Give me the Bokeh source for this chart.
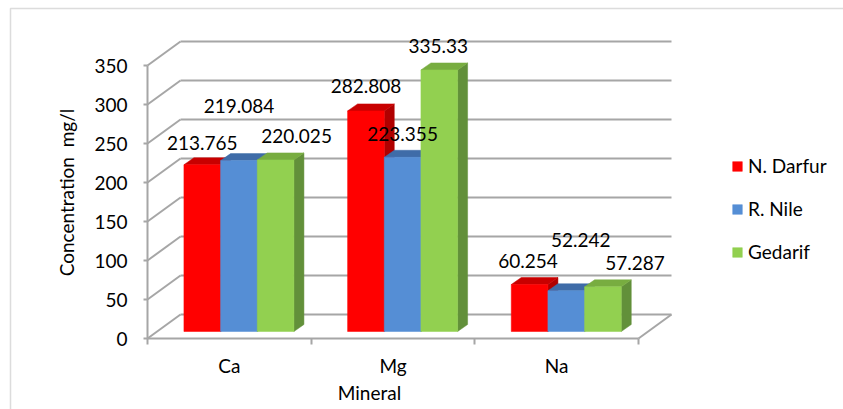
import math

from bokeh.core.properties import value
from bokeh.embed import file_html
from bokeh.models import (BoxAnnotation, ColumnDataSource, FixedTicker, Label,
                          Legend, LegendItem, Range1d)
from bokeh.plotting import figure
from bokeh.resources import INLINE

# ---- data ------------------------------------------------------------------
minerals = ["Ca", "Mg", "Na"]
sites = ["N. Darfur", "R. Nile", "Gedarif"]
n_darfur = [213.765, 282.808, 60.254]
r_nile = [219.084, 223.355, 52.242]
gedarif = [220.025, 335.33, 57.287]
series_values = [n_darfur, r_nile, gedarif]
y_ticks = [0, 50, 100, 150, 200, 250, 300, 350]

# ---- styling / layout ------------------------------------------------------
W, H = 843, 409
ORIGIN_X, ORIGIN_Y = 147, 338              # canvas px of the front axes corner
PX_SLOT = 491 / 3                          # px per category slot
PX_UNIT = 273 / 350                        # px per mg/l
FONT = "Lato"
FS = "19px"
GRID = "#a6a6a6"

face_front = ["#ff0000", "#558ed5", "#92d050"]
face_top = ["#c80000", "#3f6ca8", "#78ad40"]
face_side = ["#b00000", "#3a64a0", "#62903a"]

WALL_DX, WALL_DY = 33, 24                  # depth of the floor / walls (px)
BAR_DX, BAR_DY = 9.6, 7                    # front plane of the bars (px)
DEPTH_DX, DEPTH_DY = 10, 7                 # depth of one bar (px)
BAR_W = 110 / 3                            # width of one bar (px)

# label placement: horizontal shift and lift above the bar top (px)
label_dx = [[0, 0, -1.5], [0, 0, 14.5], [21, -1, 32]]
label_lift = [[22, 25, 24], [55, 23, 51], [24, 24, 24]]


def dx(px):
    return px / PX_SLOT


def dy(px):
    return px / PX_UNIT


def cx(px):
    """canvas x (px from left) -> data x"""
    return dx(px - ORIGIN_X)


def cy(px):
    """canvas y (px from top) -> data y"""
    return dy(ORIGIN_Y - px)


p = figure(width=W, height=H, output_backend="svg", toolbar_location=None,
           x_range=Range1d(cx(0), cx(W)), y_range=Range1d(cy(H), cy(0)),
           min_border=0, background_fill_color="white",
           border_fill_color="white")
p.outline_line_color = None
p.xgrid.visible = False
p.ygrid.visible = False

# ---- walls and floor -------------------------------------------------------
n_cat = len(minerals)
wx, wy = dx(WALL_DX), dy(WALL_DY)
p.segment(x0=[wx] * len(y_ticks), y0=[t + wy for t in y_ticks],
          x1=[n_cat + wx] * len(y_ticks), y1=[t + wy for t in y_ticks],
          line_color=GRID, line_width=2)
p.segment(x0=[0] * len(y_ticks), y0=y_ticks,
          x1=[wx] * len(y_ticks), y1=[t + wy for t in y_ticks],
          line_color=GRID, line_width=2)
p.segment(x0=[n_cat], y0=[0], x1=[n_cat + wx], y1=[wy],
          line_color=GRID, line_width=2)

# ---- 3-D bars: side, top and front faces drawn left to right ---------------
bw = dx(BAR_W)
bx, by = dx(BAR_DX), dy(BAR_DY)
ddx, ddy = dx(DEPTH_DX), dy(DEPTH_DY)
xs, ys, colors = [], [], []
legend_index = {}
lab_x, lab_y, lab_t = [], [], []
for j in range(n_cat):
    for i, vals in enumerate(series_values):
        v = vals[j]
        xl = j + 0.5 - 1.5 * bw + i * bw + bx
        xr = xl + bw
        y0, y1 = by, v + by
        xs.append([xr, xr + ddx, xr + ddx, xr])
        ys.append([y0, y0 + ddy, y1 + ddy, y1])
        colors.append(face_side[i])
        xs.append([xl, xr, xr + ddx, xl + ddx])
        ys.append([y1, y1, y1 + ddy, y1 + ddy])
        colors.append(face_top[i])
        xs.append([xl, xr, xr, xl])
        ys.append([y0, y0, y1, y1])
        colors.append(face_front[i])
        if j == 0:
            legend_index[i] = len(colors) - 1
        lab_x.append((xl + xr) / 2 + dx(label_dx[i][j]))
        lab_y.append(y1 + dy(label_lift[i][j]))
        lab_t.append(str(v))

faces = ColumnDataSource(dict(xs=xs, ys=ys, color=colors))
bars = p.patches("xs", "ys", source=faces, fill_color="color",
                 line_color="color", line_width=0.5)

p.text(x=lab_x, y=lab_y, text=lab_t, text_font=value(FONT),
       text_font_size=FS, text_color="black",
       text_align="center", text_baseline="middle")

# ---- axes (pinned to the front corner of the floor) ------------------------
ya = p.yaxis[0]
ya.fixed_location = 0
ya.ticker = FixedTicker(ticks=y_ticks)
ya.bounds = (y_ticks[0], y_ticks[-1])
ya.axis_line_color = GRID
ya.axis_line_width = 2
ya.major_tick_line_color = GRID
ya.major_tick_line_width = 2
ya.major_tick_out = 4
ya.major_tick_in = 0
ya.minor_tick_line_color = None
ya.major_label_standoff = 16
ya.major_label_text_font = FONT
ya.major_label_text_font_size = FS
ya.major_label_text_color = "black"

xa = p.xaxis[0]
xa.fixed_location = 0
xa.ticker = FixedTicker(ticks=[k + 0.5 for k in range(n_cat)],
                        minor_ticks=list(range(n_cat + 1)))
xa.major_label_overrides = {k + 0.5: m for k, m in enumerate(minerals)}
xa.bounds = (0, n_cat)
xa.axis_line_color = GRID
xa.axis_line_width = 2
xa.major_tick_line_color = None
xa.minor_tick_line_color = GRID
xa.minor_tick_line_width = 2
xa.minor_tick_out = 6
xa.minor_tick_in = 0
xa.major_label_standoff = 9
xa.major_label_text_font = FONT
xa.major_label_text_font_size = FS
xa.major_label_text_color = "black"

# axis titles
p.add_layout(Label(x=cx(369), y=cy(392), text="Mineral",
                   text_font=FONT, text_font_size=FS, text_color="black",
                   text_align="center", text_baseline="middle"))
p.add_layout(Label(x=cx(66), y=cy(192), text="Concentration\u00a0 mg/l",
                   angle=math.pi / 2, text_font=FONT, text_font_size=FS,
                   text_color="black", text_align="center",
                   text_baseline="middle"))

# chart area border
p.add_layout(BoxAnnotation(left=cx(10), top=cy(8), right=cx(W + 20),
                           bottom=cy(H + 20), fill_alpha=0,
                           line_color="#8c8c8c", line_width=1.5))

# ---- legend ----------------------------------------------------------------
legend = Legend(items=[LegendItem(label=s, renderers=[bars], index=legend_index[i])
                       for i, s in enumerate(sites)],
                location=(731, H - 263), padding=0, margin=0,
                spacing=20, glyph_width=12, glyph_height=12, label_standoff=5,
                label_text_font=FONT, label_text_font_size=FS,
                label_text_color="black", border_line_color=None,
                background_fill_alpha=0)
p.add_layout(legend)

open("out.html", "w").write(file_html(p, INLINE))
